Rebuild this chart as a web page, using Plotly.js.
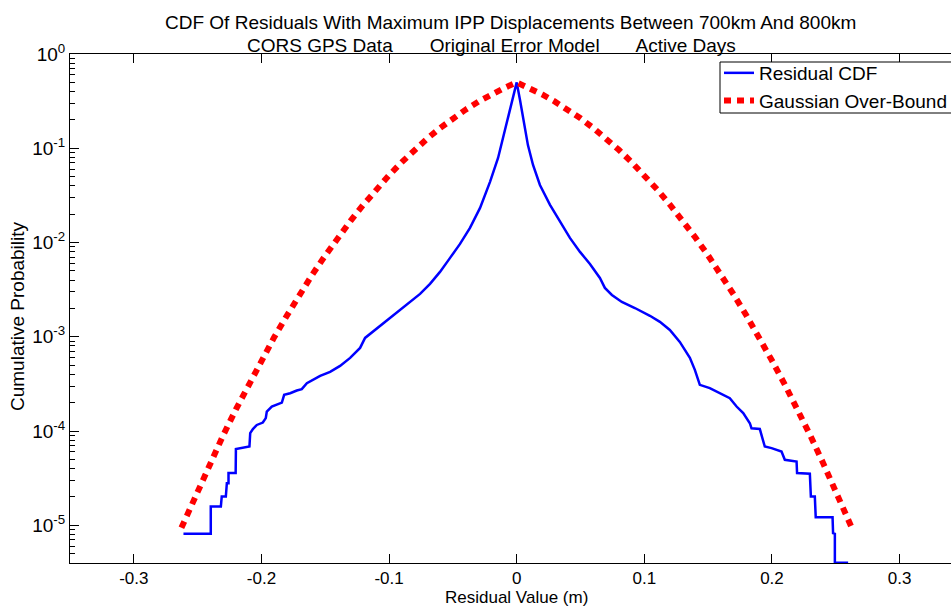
<!DOCTYPE html>
<html>
<head>
<meta charset="utf-8">
<script src="https://cdn.plot.ly/plotly-3.0.1.min.js"></script>
<style>html,body{margin:0;padding:0;background:#fff;}#chart{width:951px;height:607px;}</style>
</head>
<body>
<div id="chart"></div>
<script>
// Residual CDF (two-sided)
const residX = [-0.2611,-0.2397,-0.2397,-0.2318,-0.2311,-0.2279,-0.2271,-0.2258,-0.2258,-0.2202,-0.2200,-0.2094,-0.2088,-0.2067,-0.2036,-0.1989,-0.1966,-0.1958,-0.1919,-0.1840,-0.1822,-0.1775,-0.1723,-0.1684,-0.1644,-0.1593,-0.1540,-0.1462,-0.1384,-0.1305,-0.1227,-0.1188,-0.1109,-0.0992,-0.0914,-0.0836,-0.0757,-0.0679,-0.0601,-0.0522,-0.0444,-0.0366,-0.0287,-0.0209,-0.0146,-0.0092,-0.0052,-0.0021,0,
0.0026,0.0057,0.0088,0.0128,0.0182,0.0261,0.0339,0.0417,0.0496,0.0574,0.0652,0.0691,0.0746,0.0824,0.0926,0.1044,0.1122,0.1200,0.1278,0.1357,0.1396,0.1435,0.1513,0.1592,0.1670,0.1723,0.1775,0.1827,0.1840,0.1905,0.1931,0.1944,0.1997,0.2075,0.2101,0.2193,0.2197,0.2297,0.2305,0.2336,0.2343,0.2475,0.2479,0.2493,0.2493,0.2597];
const residY = [8.13e-6,8.13e-6,1.58e-5,1.58e-5,2.02e-5,2.02e-5,2.80e-5,2.80e-5,3.58e-5,3.58e-5,6.43e-5,6.85e-5,9.5e-5,1.05e-4,1.16e-4,1.23e-4,1.37e-4,1.61e-4,1.82e-4,2.00e-4,2.42e-4,2.52e-4,2.69e-4,2.78e-4,3.22e-4,3.49e-4,3.85e-4,4.25e-4,4.91e-4,5.97e-4,7.62e-4,9.73e-4,1.18e-3,1.59e-3,1.93e-3,2.34e-3,2.85e-3,3.64e-3,4.88e-3,6.87e-3,9.67e-3,1.43e-2,2.33e-2,4.40e-2,7.89e-2,0.156,0.255,0.395,0.5,
0.325,0.177,0.108,0.0665,0.0408,0.0251,0.0165,0.0112,7.95e-3,5.93e-3,4.21e-3,3.30e-3,2.78e-3,2.34e-3,2.02e-3,1.67e-3,1.44e-3,1.18e-3,8.83e-4,5.97e-4,4.46e-4,3.09e-4,2.85e-4,2.52e-4,2.23e-4,1.82e-4,1.55e-4,1.21e-4,1.07e-4,1.05e-4,7.74e-5,6.85e-5,6.59e-5,6.07e-5,4.95e-5,4.75e-5,3.58e-5,3.52e-5,2.02e-5,2.02e-5,1.22e-5,1.22e-5,8.26e-6,8.1e-6,4.0e-6,4.0e-6];

// Gaussian over-bound (two-sided)
const gaussX = [-0.2627,-0.25,-0.24,-0.23,-0.22,-0.21,-0.20,-0.19,-0.18,-0.17,-0.16,-0.15,-0.14,-0.13,-0.12,-0.11,-0.10,-0.09,-0.08,-0.07,-0.06,-0.05,-0.04,-0.03,-0.02,-0.01,0,
0.01,0.02,0.03,0.04,0.05,0.06,0.07,0.08,0.09,0.10,0.11,0.12,0.13,0.14,0.15,0.16,0.17,0.18,0.19,0.20,0.21,0.22,0.23,0.24,0.25,0.2626];
const gaussY = [9.4e-6,2.33e-5,4.6e-5,9.0e-5,1.70e-4,3.13e-4,5.6e-4,9.9e-4,1.68e-3,2.81e-3,4.6e-3,7.28e-3,0.0113,0.0171,0.0253,0.0366,0.0517,0.0713,0.0963,0.127,0.164,0.208,0.257,0.312,0.372,0.435,0.5,
0.435,0.372,0.312,0.257,0.208,0.164,0.127,0.0963,0.0713,0.0517,0.0366,0.0253,0.0171,0.0113,7.28e-3,4.6e-3,2.81e-3,1.68e-3,9.9e-4,5.6e-4,3.13e-4,1.70e-4,9.0e-5,4.6e-5,2.33e-5,9.4e-6];

const xTickVals = [-0.3,-0.2,-0.1,0,0.1,0.2,0.3];
const xTickText = ['-0.3','-0.2','-0.1','0','0.1','0.2','0.3'];
const yTickVals = [1e-5,1e-4,1e-3,1e-2,1e-1,1];
const yTickText = ['10<sup>-5</sup>','10<sup>-4</sup>','10<sup>-3</sup>','10<sup>-2</sup>','10<sup>-1</sup>','10<sup>0</sup>'];

const titleLine1 = 'CDF Of Residuals With Maximum IPP Displacements Between 700km And 800km';
const titleLine2 = 'CORS GPS Data       Original Error Model       Active Days';
const xTitle = 'Residual Value (m)';
const yTitle = 'Cumulative Probability';
const seriesNames = ['Residual CDF','Gaussian Over-Bound'];

const FONT = 'Liberation Sans, Arial, Helvetica, sans-serif';
const FS = 19;
const L = 70, R = 0, T = 54, B = 44, W = 951, H = 607;
const pw = W - L - R, ph = H - T - B;
const px2x = p => (p - L) / pw;
const py2y = p => (H - B - p) / ph;
const fnt = s => ({family: FONT, size: s, color: '#000'});

const traces = [
  {x: residX, y: residY, type: 'scatter', mode: 'lines', name: seriesNames[0],
   line: {color: '#0000ff', width: 2.5}},
  {x: gaussX, y: gaussY, type: 'scatter', mode: 'lines', name: seriesNames[1],
   line: {color: '#ff0000', width: 6, dash: '7px,6px'}}
];

const layout = {
  width: W, height: H,
  margin: {l: L, r: R, t: T, b: B, autoexpand: false},
  paper_bgcolor: '#fff', plot_bgcolor: '#fff',
  font: fnt(FS),
  showlegend: true,
  legend: {x: px2x(719), y: py2y(54), xanchor: 'left', yanchor: 'top',
    bgcolor: 'rgba(0,0,0,0)', borderwidth: 0,
    font: fnt(FS), tracegroupgap: 0},
  shapes: [
    {type: 'rect', xref: 'paper', yref: 'paper', x0: px2x(720), x1: px2x(960), y0: py2y(113), y1: py2y(62),
     line: {color: '#000', width: 1}, fillcolor: '#fff', layer: 'above'}
  ],
  xaxis: {range: [-0.35, 0.3403], tickmode: 'array', tickvals: xTickVals, ticktext: xTickText,
    ticks: 'inside', ticklen: 9, tickcolor: '#000', tickwidth: 1,
    showline: true, linecolor: '#000', linewidth: 1, mirror: 'ticks',
    showgrid: false, zeroline: false, tickfont: fnt(17)},
  yaxis: {type: 'log', range: [-5.4, 0], tickmode: 'array', tickvals: yTickVals, ticktext: yTickText,
    ticks: 'inside', ticklen: 9, tickcolor: '#000', tickwidth: 1,
    minor: {ticks: 'inside', ticklen: 5, tickcolor: '#000', dtick: 'D1', showgrid: false},
    showline: true, linecolor: '#000', linewidth: 1, mirror: false,
    showgrid: false, zeroline: false, tickfont: fnt(FS)},
  annotations: [
    {text: titleLine1, xref: 'paper', yref: 'paper', x: px2x(510), y: py2y(22), xanchor: 'center', yanchor: 'middle', showarrow: false, font: fnt(FS)},
    {text: titleLine2, xref: 'paper', yref: 'paper', x: px2x(491), y: py2y(45), xanchor: 'center', yanchor: 'middle', showarrow: false, font: fnt(FS)},
    {text: xTitle, xref: 'paper', yref: 'paper', x: px2x(516), y: py2y(597), xanchor: 'center', yanchor: 'middle', showarrow: false, font: fnt(17)},
    {text: yTitle, xref: 'paper', yref: 'paper', x: px2x(18), y: py2y(316), xanchor: 'center', yanchor: 'middle', textangle: -90, showarrow: false, font: fnt(FS)}
  ]
};

Plotly.newPlot('chart', traces, layout, {displayModeBar: false, staticPlot: true});
</script>
</body>
</html>
